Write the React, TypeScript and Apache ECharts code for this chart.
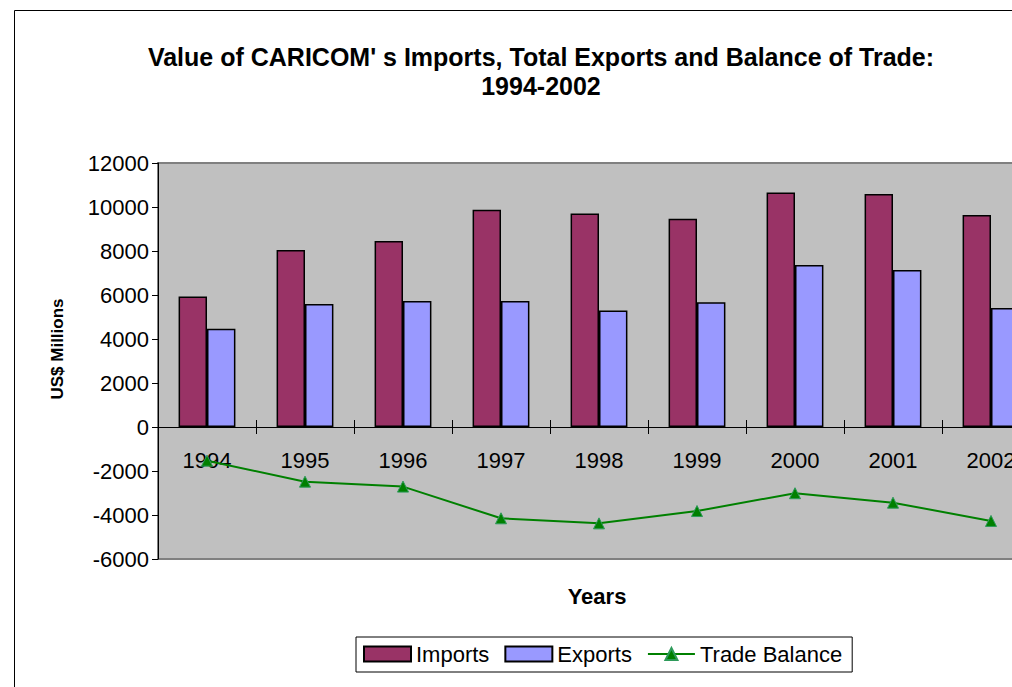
import React, { useEffect, useRef } from "react";
import * as echarts from "echarts";

const years = ["1994", "1995", "1996", "1997", "1998", "1999", "2000", "2001", "2002"];
const imports = [5930, 8050, 8460, 9870, 9700, 9470, 10660, 10590, 9640];
const exportsV = [4470, 5590, 5730, 5730, 5290, 5670, 7360, 7140, 5410];
const balance = [-1530, -2485, -2710, -4150, -4380, -3820, -3010, -3440, -4270];

const FONT = "'Liberation Sans', Arial, Helvetica, sans-serif";

export default function App() {
  const ref = useRef<HTMLDivElement>(null);
  useEffect(() => {
    if (!ref.current) return;
    const chart = echarts.init(ref.current, undefined, { renderer: "svg" });
    chart.setOption({
      animation: false,
      backgroundColor: "#ffffff",
      textStyle: { fontFamily: FONT },
      title: {
        text: "Value of CARICOM' s Imports, Total Exports and Balance of Trade:\n1994-2002",
        left: "center",
        top: 37,
        textStyle: { fontFamily: FONT, fontSize: 25, fontWeight: "bold", color: "#000", lineHeight: 29 },
      },
      grid: {
        left: 158,
        right: 42,
        top: 163,
        bottom: 128,
        show: true,
        backgroundColor: "#c0c0c0",
        borderColor: "#808080",
        borderWidth: 2,
        containLabel: false,
      },
      legend: {
        left: 356,
        top: 637,
        orient: "horizontal",
        itemWidth: 47,
        itemHeight: 15,
        itemGap: 15,
        padding: [6, 10, 7, 7],
        borderColor: "#000",
        borderWidth: 1,
        textStyle: { fontFamily: FONT, fontSize: 22, color: "#000" },
        data: [
          { name: "Imports", icon: "rect" },
          { name: "Exports", icon: "rect" },
          { name: "Trade Balance" },
        ],
      },
      xAxis: [
        {
          type: "category",
          data: years,
          position: "bottom",
          axisLine: { onZero: true, lineStyle: { color: "#000", width: 1 } },
          axisTick: { show: true, inside: false, length: 7, lineStyle: { color: "#000" } },
          axisLabel: { show: false },
          splitLine: { show: false },
        },
        {
          type: "category",
          data: years,
          position: "bottom",
          offset: -132,
          axisLine: { show: false, onZero: false },
          axisTick: { show: true, inside: true, length: 7, lineStyle: { color: "#000" } },
          axisLabel: { show: true, color: "#000", fontSize: 22, fontFamily: FONT, margin: 22 },
          splitLine: { show: false },
        },
      ],
      yAxis: {
        type: "value",
        min: -6000,
        max: 12000,
        interval: 2000,
        axisLine: { show: true, onZero: false, lineStyle: { color: "#000", width: 1 } },
        axisTick: { show: true, length: 6, lineStyle: { color: "#000" } },
        axisLabel: { color: "#000", fontSize: 22, fontFamily: FONT, margin: 9, formatter: (v: number) => String(v) },
        splitLine: { show: false },
      },
      graphic: [
        {
          type: "rect",
          shape: { x: 14.5, y: 10.5, width: 3000, height: 3000 },
          style: { fill: "none", stroke: "#000", lineWidth: 1 },
          silent: true,
          z: -1,
        },
        {
          type: "text",
          x: 57,
          y: 349,
          rotation: Math.PI / 2,
          style: {
            text: "US$ Millions",
            fontFamily: FONT,
            fontSize: 17,
            fontWeight: "bold",
            fill: "#000",
            align: "center",
            verticalAlign: "middle",
          },
        },
        {
          type: "text",
          x: 597,
          y: 596,
          style: {
            text: "Years",
            fontFamily: FONT,
            fontSize: 22,
            fontWeight: "bold",
            fill: "#000",
            align: "center",
            verticalAlign: "middle",
          },
        },
      ],
      series: [
        {
          name: "Imports",
          type: "bar",
          data: imports,
          barGap: "0%",
          barCategoryGap: "42%",
          itemStyle: { color: "#993366", borderColor: "#000", borderWidth: 1.5 },
        },
        {
          name: "Exports",
          type: "bar",
          data: exportsV,
          barGap: "0%",
          barCategoryGap: "42%",
          itemStyle: { color: "#9999ff", borderColor: "#000", borderWidth: 1.5 },
        },
        {
          name: "Trade Balance",
          type: "line",
          data: balance,
          symbol: "triangle",
          symbolSize: 11,
          lineStyle: { color: "#008000", width: 2 },
          itemStyle: { color: "#008000", borderColor: "#2e9a5a", borderWidth: 1 },
          z: 3,
        },
      ],
    });
    return () => chart.dispose();
  }, []);
  return (
    <div style={{ position: "fixed", left: 0, top: 0, width: 1012, height: 687, overflow: "hidden", background: "#fff" }}>
      <div ref={ref} style={{ width: 1082, height: 687 }} />
    </div>
  );
}
